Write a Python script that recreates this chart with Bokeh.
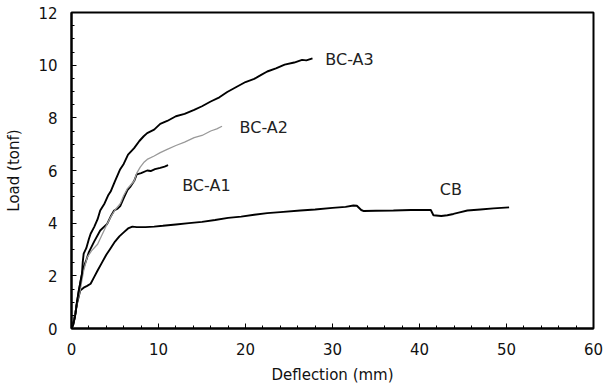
from bokeh.plotting import figure
from bokeh.models import Range1d, SingleIntervalTicker, ColumnDataSource
from bokeh.core.properties import value
from bokeh.embed import file_html
from bokeh.resources import INLINE

# ---- data ----
a3_x = [0, 0.2, 0.46, 0.6, 0.84, 1.0, 1.2, 1.3, 1.4, 1.7, 2.0, 2.2, 2.6, 3.0, 3.3, 3.8, 4.2, 4.5,
        5.0, 5.6, 6.0, 6.5, 7.2, 7.8, 8.3, 8.7, 9.5, 10.2, 11.0, 12.0, 13.0, 14.1, 15.0, 16.0,
        17.0, 17.9, 19.0, 20.0, 21.0, 21.7, 22.5, 23.5, 24.5, 25.6, 26.5, 27.0, 27.7]
a3_y = [0, 0.15, 0.56, 0.95, 1.44, 1.7, 2.08, 2.55, 2.84, 3.05, 3.4, 3.6, 3.85, 4.15, 4.48, 4.75,
        5.05, 5.2, 5.6, 6.05, 6.25, 6.6, 6.85, 7.12, 7.3, 7.42, 7.55, 7.77, 7.88, 8.06, 8.15,
        8.3, 8.44, 8.62, 8.78, 8.98, 9.18, 9.36, 9.48, 9.61, 9.76, 9.88, 10.02, 10.1, 10.2,
        10.18, 10.26]

a2_x = [0, 0.2, 0.46, 0.7, 1.0, 1.2, 1.4, 1.6, 1.8, 2.3, 3.0, 3.5, 4.0, 4.5, 5.0, 5.6, 6.0, 6.4,
        6.8, 7.2, 7.5, 7.9, 8.3, 8.7, 9.5, 10.2, 11.0, 12.0, 13.0, 14.1, 15.0, 16.0, 16.7, 17.3]
a2_y = [0, 0.15, 0.68, 1.05, 1.44, 1.85, 2.2, 2.45, 2.7, 2.95, 3.2, 3.55, 3.9, 4.23, 4.5, 4.74,
        5.05, 5.3, 5.45, 5.6, 5.9, 6.13, 6.3, 6.42, 6.55, 6.68, 6.8, 6.95, 7.08, 7.25, 7.33,
        7.5, 7.58, 7.68]

a1_x = [0, 0.2, 0.46, 0.84, 1.1, 1.4, 1.7, 2.0, 2.6, 3.3, 3.7, 4.1, 4.5, 4.9, 5.3, 5.6, 6.0, 6.4,
        6.8, 7.2, 7.5, 8.0, 8.7, 9.1, 9.6, 10.2, 10.7, 11.1]
a1_y = [0, 0.15, 0.6, 1.44, 1.9, 2.33, 2.6, 2.9, 3.3, 3.72, 3.85, 3.97, 4.25, 4.48, 4.55, 4.65,
        4.95, 5.24, 5.4, 5.6, 5.85, 5.9, 6.0, 5.98, 6.05, 6.1, 6.15, 6.2]

cb_x = [0, 0.3, 0.6, 1.0, 1.4, 1.8, 2.2, 2.6, 3.0, 3.5, 4.0, 4.5, 5.0, 5.5, 6.0, 6.5, 7.0, 7.5,
        8.5, 9.5, 10.5, 12.0, 13.5, 15.0, 16.5, 18.0, 19.5, 21.0, 22.5, 24.0, 26.3, 28.0, 30.0,
        31.5, 32.4, 32.8, 33.3, 33.6, 35.0, 37.0, 39.0, 41.3, 41.6, 42.5, 43.2, 43.9, 44.5,
        45.5, 47.0, 48.5, 50.3]
cb_y = [0, 0.3, 0.9, 1.44, 1.55, 1.62, 1.7, 1.95, 2.2, 2.5, 2.8, 3.05, 3.3, 3.5, 3.65, 3.8,
        3.87, 3.85, 3.85, 3.87, 3.9, 3.95, 4.0, 4.05, 4.12, 4.2, 4.25, 4.32, 4.38, 4.42, 4.48,
        4.52, 4.58, 4.62, 4.67, 4.66, 4.5, 4.46, 4.47, 4.48, 4.5, 4.5, 4.3, 4.27, 4.3, 4.35,
        4.4, 4.48, 4.52, 4.56, 4.6]

label_text = ["BC-A3", "BC-A2", "BC-A1", "CB"]
label_x = [31.95, 22.1, 15.5, 43.6]
label_y = [10.22, 7.65, 5.43, 5.27]

x_ticks = [0, 10, 20, 30, 40, 50, 60]
y_ticks = [0, 2, 4, 6, 8, 10, 12]

FONT = "DejaVu Sans"

p = figure(width=605, height=392, output_backend="svg", toolbar_location=None,
           x_range=Range1d(0, 60), y_range=Range1d(0, 12),
           min_border_left=71, min_border_right=12, min_border_top=12, min_border_bottom=64,
           background_fill_color="white", border_fill_color="white")

p.line(cb_x, cb_y, line_color="black", line_width=1.9)
p.line(a1_x, a1_y, line_color="black", line_width=1.9)
p.line(a2_x, a2_y, line_color="#999999", line_width=1.3)
p.line(a3_x, a3_y, line_color="black", line_width=1.9)

src = ColumnDataSource(dict(x=label_x, y=label_y, t=label_text))
p.text(x="x", y="y", text="t", source=src, text_font=value(FONT), text_font_size="16px",
       text_align="center", text_baseline="middle", text_color="#222222")

p.xgrid.visible = False
p.ygrid.visible = False
p.outline_line_color = "black"
p.outline_line_width = 2

for ax, step, nminor in ((p.xaxis[0], 10, 5), (p.yaxis[0], 2, 4)):
    ax.ticker = SingleIntervalTicker(interval=step, num_minor_ticks=nminor)
    ax.axis_line_width = 2
    ax.major_tick_in = 5
    ax.major_tick_out = 0
    ax.minor_tick_in = 3
    ax.minor_tick_out = 0
    ax.major_label_text_font = FONT
    ax.major_label_text_font_size = "15px"
    ax.major_label_text_color = "#111111"
    ax.axis_label_text_font = FONT
    ax.axis_label_text_font_size = "15px"
    ax.axis_label_text_font_style = "normal"
    ax.axis_label_text_color = "#111111"

p.xaxis.axis_label = "Deflection (mm)"
p.yaxis.axis_label = "Load (tonf)"
p.xaxis.major_label_standoff = 14
p.yaxis.major_label_standoff = 14
p.xaxis.axis_label_standoff = 8
p.yaxis.axis_label_standoff = 12

open("out.html", "w").write(file_html(p, INLINE))
